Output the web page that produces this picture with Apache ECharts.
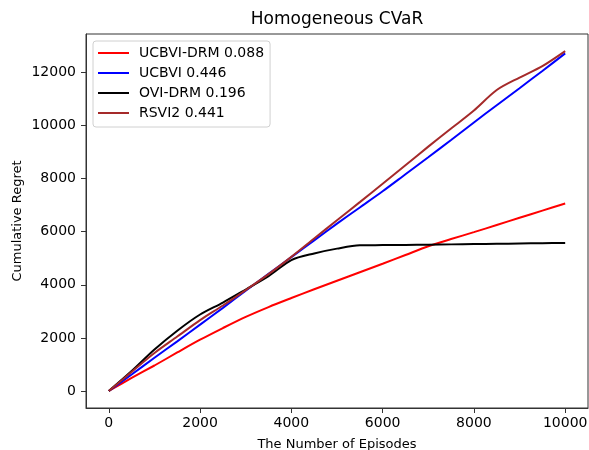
<!DOCTYPE html>
<html>
<head>
<meta charset="utf-8">
<script src="https://cdn.jsdelivr.net/npm/echarts@6/dist/echarts.min.js"></script>
<style>
  html, body { margin: 0; padding: 0; background: #fff; }
  #chart { width: 589px; height: 450px; }
</style>
</head>
<body>
<div id="chart"></div>
<script>
// episodes (x) shared by all curves
var episodes = [0, 500, 1000, 1500, 2000, 2500, 3000, 3500, 4000, 4500, 5000,
                5500, 6000, 6500, 7000, 7500, 8000, 8500, 9000, 9500, 10000];

var ucbviDrm = [0, 490, 960, 1450, 1930, 2370, 2790, 3160, 3500, 3830, 4150,
                4470, 4790, 5120, 5450, 5720, 5980, 6250, 6520, 6790, 7056];
var ucbvi    = [0, 620, 1250, 1870, 2500, 3130, 3780, 4410, 5040, 5670, 6300,
                6910, 7520, 8160, 8800, 9450, 10110, 10760, 11400, 12050, 12710];
var oviDrm   = [0, 750, 1560, 2270, 2880, 3330, 3820, 4320, 4930, 5180, 5360,
                5485, 5492, 5500, 5510, 5520, 5531, 5542, 5553, 5564, 5576];
var rsvi2    = [0, 720, 1430, 2050, 2670, 3220, 3800, 4400, 5050, 5740, 6430,
                7110, 7800, 8500, 9200, 9880, 10560, 11330, 11800, 12230, 12795];

var xTicks = [0, 2000, 4000, 6000, 8000, 10000];
var yTicks = [0, 2000, 4000, 6000, 8000, 10000, 12000];

var names = ['UCBVI-DRM 0.088', 'UCBVI 0.446', 'OVI-DRM 0.196', 'RSVI2 0.441'];
var colors = ['#ff0000', '#0000ff', '#000000', '#a52a2a'];
var values = [ucbviDrm, ucbvi, oviDrm, rsvi2];

function pairs(ys) {
    var out = [];
    for (var i = 0; i < episodes.length; i++) {
        out.push([episodes[i], ys[i]]);
    }
    return out;
}

var font = 'DejaVu Sans';
var axisColor = '#333';
// legend sample: a 2px line in a 31x14 box
var lineIcon = 'path://M0,0 M31,14 M0,6 L31,6 L31,8 L0,8 Z';

var series = [];
for (var i = 0; i < names.length; i++) {
    series.push({
        name: names[i],
        type: 'line',
        data: pairs(values[i]),
        symbol: 'none',
        smooth: 0.3,
        color: colors[i],
        lineStyle: { width: 2, color: colors[i] },
        z: 2 + i
    });
}

var chart = echarts.init(document.getElementById('chart'), null, { renderer: 'canvas' });
chart.setOption({
    animation: false,
    backgroundColor: '#fff',
    title: {
        text: 'Homogeneous CVaR',
        left: 337,
        top: 11,
        padding: 0,
        textAlign: 'center',
        textStyle: { fontFamily: font, fontSize: 17, fontWeight: 'normal', color: '#000' }
    },
    legend: {
        orient: 'vertical',
        left: 93,
        top: 41,
        padding: [5, 6, 7, 5],
        itemWidth: 31,
        itemHeight: 14,
        itemGap: 6,
        icon: lineIcon,
        borderColor: '#d0d0d0',
        borderWidth: 1,
        borderRadius: 3,
        backgroundColor: 'rgba(255,255,255,0.8)',
        textStyle: { fontFamily: font, fontSize: 14, color: '#000', padding: [0, 0, 0, 5] },
        data: names
    },
    grid: {
        left: 86,
        right: 1,
        top: 34,
        bottom: 42,
        outerBoundsMode: 'none',
        show: true,
        borderColor: axisColor,
        borderWidth: 1,
        backgroundColor: '#fff'
    },
    xAxis: {
        type: 'value',
        min: -500,
        max: 10500,
        name: 'The Number of Episodes',
        nameLocation: 'middle',
        nameGap: 37,
        nameMoveOverlap: false,
        nameTextStyle: { fontFamily: font, fontSize: 13, color: '#000', verticalAlign: 'middle' },
        splitLine: { show: false },
        axisLine: { show: true, onZero: false, lineStyle: { color: axisColor } },
        axisTick: { show: true, length: 5, customValues: xTicks, lineStyle: { color: axisColor } },
        axisLabel: {
            customValues: xTicks, margin: 8, fontFamily: font, fontSize: 14, color: '#000',
            formatter: function (v) { return String(v); }
        }
    },
    yAxis: {
        type: 'value',
        min: -640,
        max: 13440,
        name: 'Cumulative Regret',
        nameLocation: 'middle',
        nameGap: 68,
        nameMoveOverlap: false,
        nameTextStyle: { fontFamily: font, fontSize: 13, color: '#000', verticalAlign: 'middle' },
        splitLine: { show: false },
        axisLine: { show: true, onZero: false, lineStyle: { color: axisColor } },
        axisTick: { show: true, length: 5, customValues: yTicks, lineStyle: { color: axisColor } },
        axisLabel: {
            customValues: yTicks, margin: 10, fontFamily: font, fontSize: 14, color: '#000',
            formatter: function (v) { return String(v); }
        }
    },
    series: series
});
</script>
</body>
</html>
